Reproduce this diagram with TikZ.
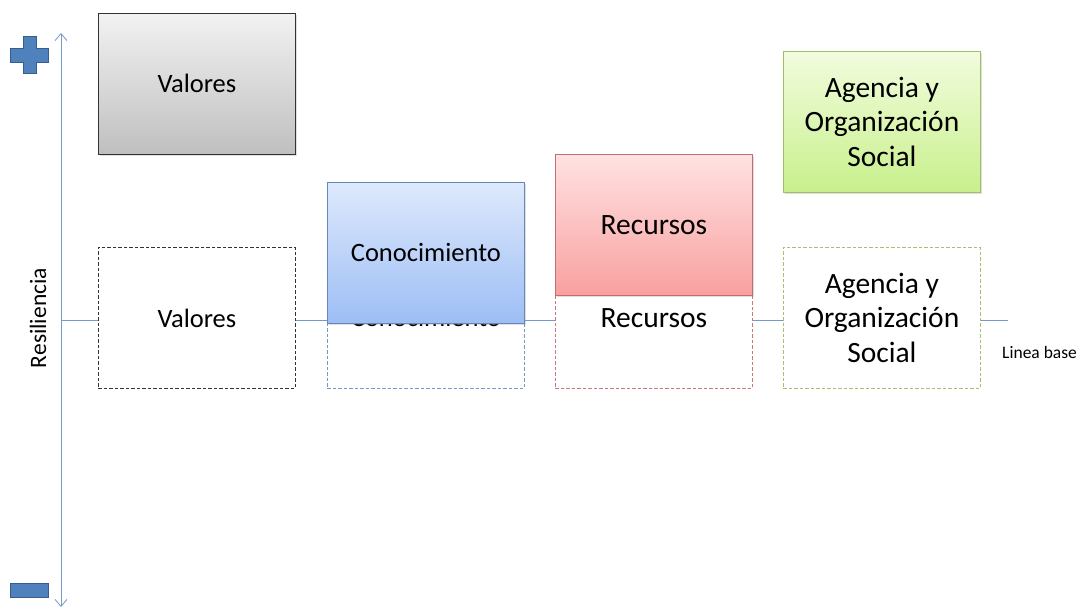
\documentclass[tikz,border=0pt]{standalone}
\usepackage{fontspec}
\setmainfont{Carlito}
\usetikzlibrary{arrows.meta,shadows}
\definecolor{axisblue}{HTML}{4F81BD}
\definecolor{signfill}{HTML}{4F81BD}
\definecolor{signline}{HTML}{385D8A}
\tikzset{
  every node/.style={inner sep=0pt},
  box/.style={anchor=north west, minimum width=197pt, minimum height=141pt,
    align=center, font=\fontsize{26.5}{35}\selectfont, text=black},
  bigtext/.style={font=\fontsize{29.5}{34.5}\selectfont},
  dbox/.style={box, fill=white, dashed, dash pattern=on 3.5pt off 2pt, line width=0.8pt},
  fbox/.style={box, line width=0.8pt,
    drop shadow={opacity=0.25, shadow xshift=1.5pt, shadow yshift=-2pt}},
  axisline/.style={draw=axisblue!80, line width=0.8pt},
  sign/.style={fill=signfill, draw=signline, line width=1pt},
}
\begin{document}
\begin{tikzpicture}[x=1pt,y=-1pt]
\useasboundingbox (0,0) rectangle (1084,609);
% axis
\coordinate (axtop) at (61,33);
\coordinate (axbot) at (61,607);
\draw[axisline, {Straight Barb[length=7pt,width=12pt]}-{Straight Barb[length=7pt,width=12pt]}] (axbot) -- (axtop);
% baseline
\coordinate (base0) at (61,320);
\coordinate (base1) at (1008,320);
\draw[axisline] (base0) -- (base1);
% plus / minus
\draw[sign] (23,37) -- (36,37) -- (36,49) -- (48,49) -- (48,63) -- (36,63) -- (36,74) -- (23,74) -- (23,63) -- (10,63) -- (10,49) -- (23,49) -- cycle;
\draw[sign] (10,583) rectangle (48,597);
% label
\node[rotate=90, font=\fontsize{23.5}{28}\selectfont] (res) at (38,318) {Resiliencia};
\node[font=\fontsize{17.5}{20}\selectfont, anchor=west] (lb) at (1002,352) {Linea base};
% dashed baseline boxes
\node[dbox, draw=black!80] (v0) at (98,247) {Valores};
\node[dbox, draw={rgb,255:red,120;green,150;blue,200}] (c0) at (327,247) {Conocimiento};
\node[dbox, bigtext, draw={rgb,255:red,200;green,120;blue,120}] (r0) at (555,247) {\raisebox{-3pt}{Recursos}};
\node[dbox, bigtext, draw={rgb,255:red,166;green,192;blue,110}] (a0) at (783,247) {Agencia y\\Organización\\Social};
% filled boxes
\node[fbox, draw=black!80, top color=black!5, bottom color=black!25] (v1) at (98,13) {Valores};
\node[fbox, draw={rgb,255:red,100;green,135;blue,190}, top color={rgb,255:red,222;green,233;blue,252}, bottom color={rgb,255:red,157;green,190;blue,245}] (c1) at (327,182) {Conocimiento};
\node[fbox, bigtext, draw={rgb,255:red,195;green,110;blue,110}, top color={rgb,255:red,255;green,226;blue,226}, bottom color={rgb,255:red,249;green,160;blue,160}] (r1) at (555,154) {Recursos};
\node[fbox, bigtext, draw={rgb,255:red,160;green,190;blue,100}, top color={rgb,255:red,242;green,252;blue,222}, bottom color={rgb,255:red,200;green,240;blue,140}] (a1) at (783,51) {Agencia y\\Organización\\Social};
\end{tikzpicture}
\end{document}
